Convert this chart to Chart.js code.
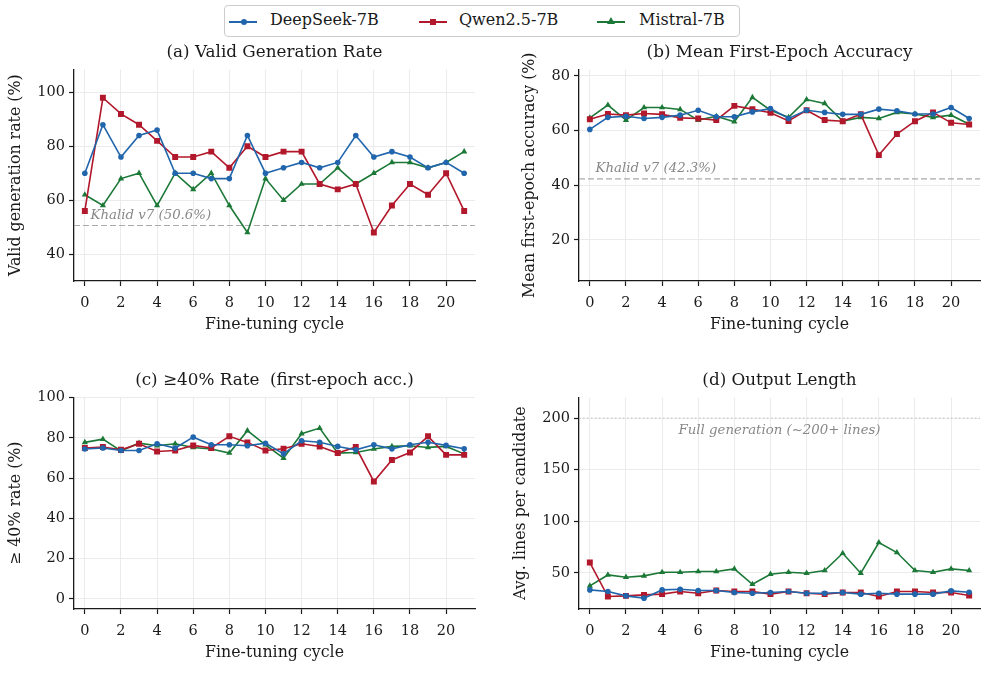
<!DOCTYPE html>
<html>
<head>
<meta charset="utf-8">
<script src="https://cdn.jsdelivr.net/npm/chart.js@4/dist/chart.umd.min.js"></script>
<style>
  body { margin: 0; background: #fff; width: 987px; height: 693px; position: relative; overflow: hidden; font-family: 'DejaVu Serif', serif; }
  canvas { position: absolute; }
  #legend { position: absolute; left: 224px; top: 5px; width: 516px; height: 32px; border: 1px solid #ccc; border-radius: 4px; box-sizing: border-box; }
  .ln { position: absolute; height: 2px; top: 15px; width: 28px; }
  .mk { position: absolute; }
  .tx { position: absolute; top: 4px; font-size: 16px; color: #1a1a1a; white-space: nowrap; }
</style>
</head>
<body>
<div id="legend">
  <div class="ln" style="left:4px;background:#2166ac"></div>
  <div class="mk" style="left:16px;top:13px;width:6px;height:6px;border-radius:50%;background:#2166ac"></div>
  <div class="tx" style="left:45px">DeepSeek-7B</div>
  <div class="ln" style="left:194px;background:#b2182b"></div>
  <div class="mk" style="left:205px;top:13px;width:6px;height:6px;background:#b2182b"></div>
  <div class="tx" style="left:234px">Qwen2.5-7B</div>
  <div class="ln" style="left:372px;background:#1b7837"></div>
  <div class="mk" style="left:382px;top:11px;width:0;height:0;border-left:4px solid transparent;border-right:4px solid transparent;border-bottom:7px solid #1b7837"></div>
  <div class="tx" style="left:414px">Mistral-7B</div>
</div>
<canvas id="cA" width="490" height="310" style="left:0;top:30px"></canvas>
<canvas id="cB" width="492" height="310" style="left:495px;top:30px"></canvas>
<canvas id="cC" width="490" height="310" style="left:0;top:358px"></canvas>
<canvas id="cD" width="492" height="310" style="left:495px;top:358px"></canvas>
<script>
const cycles = [0, 1, 2, 3, 4, 5, 6, 7, 8, 9, 10, 11, 12, 13, 14, 15, 16, 17, 18, 19, 20, 21]
const xTicks = [0, 2, 4, 6, 8, 10, 12, 14, 16, 18, 20]

// (a) valid generation rate
const validDeepSeek = [70, 88, 76, 84, 86, 70, 70, 68, 68, 84, 70, 72, 74, 72, 74, 84, 76, 78, 76, 72, 74, 70]
const validQwen = [56, 98, 92, 88, 82, 76, 76, 78, 72, 80, 76, 78, 78, 66, 64, 66, 48, 58, 66, 62, 70, 56]
const validMistral = [62, 58, 68, 70, 58, 70, 64, 70, 58, 48, 68, 60, 66, 66, 72, 66, 70, 74, 74, 72, 74, 78]

// (b) mean first-epoch accuracy
const accDeepSeek = [60.4, 64.8, 65.2, 64.4, 64.8, 65.6, 67.4, 65.0, 65.0, 66.8, 68.0, 64.4, 67.4, 66.6, 65.9, 65.9, 67.8, 67.2, 66.0, 66.0, 68.4, 64.4]
const accQwen = [64.1, 66.0, 65.6, 66.2, 65.9, 64.6, 64.4, 63.8, 69.0, 67.8, 66.5, 63.5, 67.4, 63.8, 63.4, 65.9, 51.0, 58.7, 63.4, 66.6, 62.8, 62.2]
const accMistral = [64.6, 69.3, 63.8, 68.4, 68.4, 67.7, 63.8, 65.2, 63.2, 72.1, 67.4, 64.8, 71.3, 69.9, 63.4, 64.8, 64.4, 66.6, 66.0, 64.8, 65.6, 62.3]

// (c) >= 40% rate
const rateDeepSeek = [74.4, 74.9, 73.7, 73.7, 77.0, 74.9, 80.3, 76.5, 76.5, 76.0, 77.3, 72.0, 78.5, 77.8, 75.7, 74.0, 76.5, 74.5, 76.5, 77.8, 76.2, 74.5]
const rateQwen = [74.9, 75.4, 74.0, 77.0, 73.2, 73.7, 76.2, 74.9, 80.7, 77.7, 73.7, 74.5, 77.0, 75.7, 72.4, 75.4, 58.3, 69.0, 72.7, 80.7, 71.5, 71.5]
const rateMistral = [77.7, 79.3, 73.5, 77.3, 76.0, 77.0, 75.2, 74.4, 72.4, 83.5, 76.5, 69.9, 82.0, 84.8, 72.4, 72.7, 74.4, 75.7, 76.0, 75.2, 75.7, 72.0]

// (d) output length
const lenDeepSeek = [33.5, 32, 27.7, 25.5, 33.5, 34.2, 32.9, 32.9, 31, 30.3, 31, 32, 30.3, 30.3, 31, 29.4, 30.3, 29.4, 29.4, 29.4, 32.6, 31.3]
const lenQwen = [60, 27.1, 27.7, 28.7, 29.4, 32, 30.3, 32.9, 32, 32, 29.4, 32, 30.3, 29.4, 31, 31, 27.1, 32, 32, 31, 31, 28]
const lenMistral = [37.4, 48, 45.8, 47.1, 50.6, 50.6, 51.3, 51.3, 53.9, 39, 48.7, 50.6, 49.7, 52.3, 69, 49.7, 79.4, 69.7, 52.3, 50.6, 53.9, 52.3]

const models = [
  { name: 'DeepSeek-7B', color: '#2166ac', style: 'circle', radius: 2.8 },
  { name: 'Qwen2.5-7B', color: '#b2182b', style: 'rect', radius: 4.2 },
  { name: 'Mistral-7B', color: '#1b7837', style: 'triangle', radius: 3.6 }
]

const FONT = "'DejaVu Serif', serif"

const refLine = {
  id: 'refLine',
  beforeDatasetsDraw (chart, args, opts) {
    if (opts.value == null) return
    const { ctx, chartArea, scales } = chart
    const y = scales.y.getPixelForValue(opts.value)
    ctx.save()
    ctx.strokeStyle = opts.color
    ctx.lineWidth = opts.width
    ctx.setLineDash(opts.dash)
    ctx.beginPath()
    ctx.moveTo(chartArea.left, y)
    ctx.lineTo(chartArea.right, y)
    ctx.stroke()
    ctx.setLineDash([])
    ctx.font = 'italic 13.3px ' + FONT
    ctx.fillStyle = '#888'
    ctx.textAlign = opts.align
    ctx.textBaseline = 'middle'
    ctx.fillText(opts.label, scales.x.getPixelForValue(opts.labelX), y + opts.labelDy)
    ctx.restore()
  }
}

function draw (id, { title, yTitle, series, yMin, yMax, yTicks, yWidth, yTitlePad, padRight, ref }) {
  new Chart(document.getElementById(id), {
    type: 'line',
    data: {
      datasets: models.map((m, k) => ({
        label: m.name,
        data: cycles.map((c, i) => ({ x: c, y: series[k][i] })),
        borderColor: m.color,
        backgroundColor: m.color,
        pointBackgroundColor: m.color,
        pointBorderColor: m.color,
        pointBorderWidth: 0,
        pointStyle: m.style,
        pointRadius: m.radius,
        borderWidth: 1.6,
        tension: 0
      }))
    },
    plugins: [refLine],
    options: {
      responsive: false,
      animation: false,
      layout: { padding: { left: 0, right: padRight, top: 0, bottom: 3 } },
      plugins: {
        legend: { display: false },
        tooltip: { enabled: false },
        title: {
          display: true,
          fullSize: false,
          text: title,
          color: '#1a1a1a',
          font: { family: FONT, size: 16.8, weight: 'normal' },
          padding: { top: 12.6, bottom: 6.7 }
        },
        refLine: ref || {}
      },
      scales: {
        x: {
          type: 'linear',
          min: -0.6,
          max: 21.6,
          afterBuildTicks: s => { s.ticks = xTicks.map(v => ({ value: v })) },
          afterFit: s => { s.height = 56 },
          ticks: { autoSkip: false, maxRotation: 0, color: '#1a1a1a', padding: 9, font: { family: FONT, size: 14.5 } },
          grid: { color: '#ebebeb', lineWidth: 1, tickColor: '#1a1a1a', tickLength: 5, tickWidth: 1.2 },
          border: { color: '#1a1a1a', width: 1.3 },
          title: { display: true, text: 'Fine-tuning cycle', color: '#1a1a1a', font: { family: FONT, size: 15.8 }, padding: { top: 0, bottom: 2.5 } }
        },
        y: {
          min: yMin,
          max: yMax,
          afterBuildTicks: s => { s.ticks = yTicks.map(v => ({ value: v })) },
          afterFit: s => { s.width = yWidth },
          ticks: { color: '#1a1a1a', padding: 4, font: { family: FONT, size: 14.5 } },
          grid: { color: '#ebebeb', lineWidth: 1, tickColor: '#1a1a1a', tickLength: 5, tickWidth: 1.2 },
          border: { color: '#1a1a1a', width: 1.3 },
          title: { display: true, text: yTitle, color: '#1a1a1a', font: { family: FONT, size: 15.8 }, padding: { top: yTitlePad, bottom: 0 } }
        }
      }
    }
  })
}

draw('cA', {
  title: '(a) Valid Generation Rate',
  yTitle: 'Valid generation rate (%)',
  series: [validDeepSeek, validQwen, validMistral],
  yMin: 30, yMax: 108.5, yTicks: [40, 60, 80, 100],
  yWidth: 74, yTitlePad: 6.5, padRight: 15,
  ref: { value: 50.6, color: '#aaa', width: 1.2, dash: [6, 3], label: 'Khalid v7 (50.6%)', labelX: 0.32, labelDy: -9.5, align: 'left' }
})

draw('cB', {
  title: '(b) Mean First-Epoch Accuracy',
  yTitle: 'Mean first-epoch accuracy (%)',
  series: [accDeepSeek, accQwen, accMistral],
  yMin: 5, yMax: 82.3, yTicks: [20, 40, 60, 80],
  yWidth: 84, yTitlePad: 25.5, padRight: 7,
  ref: { value: 42.3, color: '#aaa', width: 1.2, dash: [6, 3], label: 'Khalid v7 (42.3%)', labelX: 0.32, labelDy: -10, align: 'left' }
})

draw('cC', {
  title: '(c) ≥40% Rate  (first-epoch acc.)',
  yTitle: '≥ 40% rate (%)',
  series: [rateDeepSeek, rateQwen, rateMistral],
  yMin: -5, yMax: 100, yTicks: [0, 20, 40, 60, 80, 100],
  yWidth: 74, yTitlePad: 6.5, padRight: 15,
  ref: null
})

draw('cD', {
  title: '(d) Output Length',
  yTitle: 'Avg. lines per candidate',
  series: [lenDeepSeek, lenQwen, lenMistral],
  yMin: 15, yMax: 220, yTicks: [50, 100, 150, 200],
  yWidth: 84, yTitlePad: 16.5, padRight: 7,
  ref: { value: 200, color: '#bbb', width: 1, dash: [1.5, 2.5], label: 'Full generation (~200+ lines)', labelX: 10.5, labelDy: 12.4, align: 'center' }
})
</script>
</body>
</html>
